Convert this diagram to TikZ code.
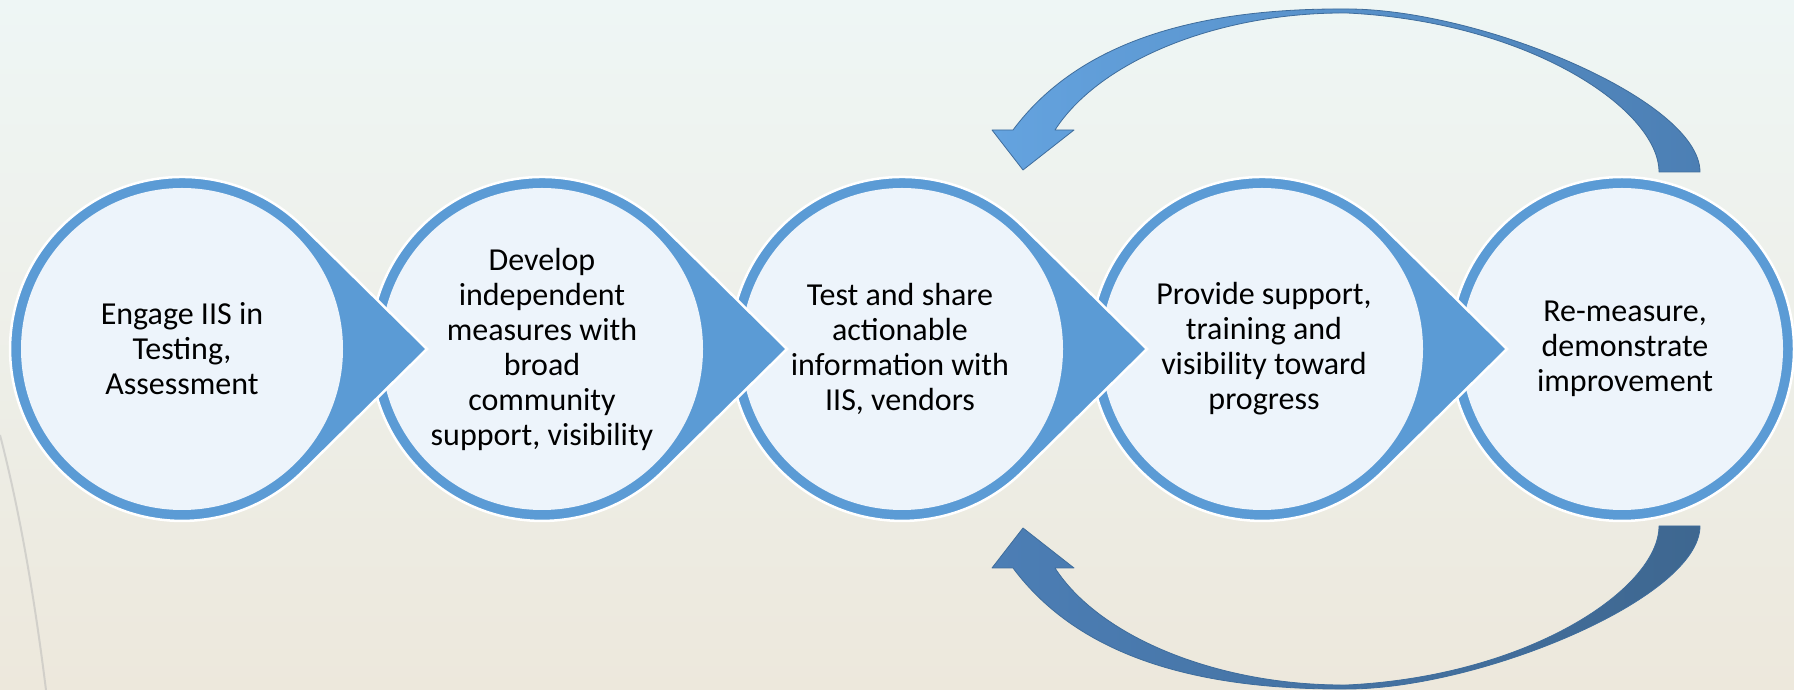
\documentclass[tikz,border=0pt]{standalone}
\usepackage{fontspec}
\setmainfont{Carlito}
\definecolor{ringblue}{HTML}{5B9BD5}
\definecolor{innerfill}{HTML}{EDF4FB}
\definecolor{bgtop}{HTML}{EEF6F5}
\definecolor{bgmid}{HTML}{F4F6EF}
\definecolor{bgbot}{HTML}{EDE8DC}
\definecolor{topL}{HTML}{64A3DF}
\definecolor{topR}{HTML}{4C7FB4}
\definecolor{botL}{HTML}{4C7EB5}
\definecolor{botR}{HTML}{3E6790}
\definecolor{arrowedge}{HTML}{3F6D9C}
\tikzset{
  ringshape/.style={fill=ringblue, draw=white, line width=2.5pt, line join=miter},
  innershape/.style={fill=innerfill},
  stagetext/.style={align=center, inner sep=0pt, text=black, font=\fontsize{32}{35}\selectfont},
  looparrow/.style={draw=arrowedge, line width=0.8pt, line join=round}
}
\newcommand\stagering[1]{%
  \filldraw[ringshape] (#1+245,341) -- (#1+120.8,341+122.5)
     arc[start angle=45.4, end angle=314.6, radius=172] -- cycle;
  \fill[innershape] (#1,341) circle[radius=161];
}
\newcommand\looppath{%
  (992,560) -- (1013,560)
  .. controls (1080,650) and (1200,682) .. (1347,681)
  .. controls (1480,681) and (1700,590) .. (1700,518)
  -- (1659,518)
  .. controls (1659,580) and (1530,668) .. (1347,677)
  .. controls (1220,678) and (1100,630) .. (1055,560)
  -- (1074,560) -- (1023,520) -- cycle
}
\begin{document}
\begin{tikzpicture}[x=1pt,y=1pt]
\useasboundingbox (0,0) rectangle (1794,690);
\shade[top color=bgtop, middle color=bgmid, bottom color=bgbot] (0,0) rectangle (1794,690);
\draw[gray!60, opacity=.45, line width=2pt] (0,255) .. controls (22,170) and (36,80) .. (46,0);

% loop arrows
\shadedraw[looparrow, left color=topL, right color=topR] \looppath;
\begin{scope}[shift={(0,682)}, yscale=-1]
\shadedraw[looparrow, left color=botL, right color=botR] \looppath;
\end{scope}

% stages, drawn from last to first
\filldraw[ringshape] (1622,341) circle[radius=172];
\fill[innershape] (1622,341) circle[radius=161];
\stagering{1262}
\stagering{902}
\stagering{542}
\stagering{182}

\node[stagetext] (s1) at (182,341) {Engage IIS in\\Testing,\\Assessment};
\node[stagetext] (s2) at (542,341) {Develop\\independent\\measures with\\broad\\community\\support, visibility};
\node[stagetext] (s3) at (900,341) {Test and share\\actionable\\information with\\IIS, vendors};
\node[stagetext] (s4) at (1264,341) {Provide support,\\training and\\visibility toward\\progress};
\node[stagetext] (s5) at (1625,341) {Re-measure,\\demonstrate\\improvement};
\end{tikzpicture}
\end{document}
